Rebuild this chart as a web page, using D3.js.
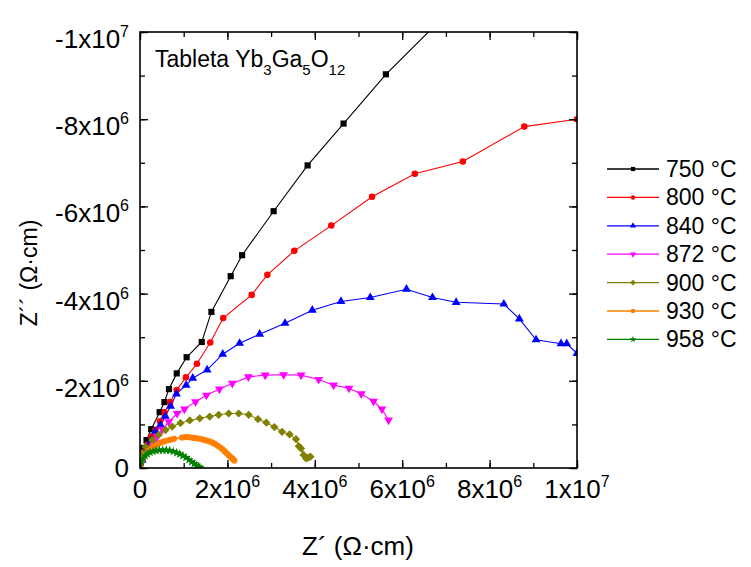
<!DOCTYPE html>
<html>
<head>
<meta charset="utf-8">
<script src="https://cdn.jsdelivr.net/npm/d3@7"></script>
<style>
  html, body { margin: 0; padding: 0; background: #fff; }
  svg { display: block; font-family: "Liberation Sans", Arial, sans-serif; }
</style>
</head>
<body>
<svg id="chart" width="751" height="567"></svg>
<script>
// ---------- DATA (Z' and Z'' in units of 10^6 Ω·cm) ----------
const xTickVals = [0, 2, 4, 6, 8, 10];
const xTickMant = ["0", "2x10", "4x10", "6x10", "8x10", "1x10"];
const xTickExp  = ["", "6", "6", "6", "6", "7"];
const yTickVals = [0, -2, -4, -6, -8, -10];
const yTickMant = ["0", "-2x10", "-4x10", "-6x10", "-8x10", "-1x10"];
const yTickExp  = ["", "6", "6", "6", "6", "7"];
const minorTicks = [0, 1, 2, 3, 4, 5, 6, 7, 8, 9, 10];

const seriesNames = ["750 °C", "800 °C", "840 °C", "872 °C", "900 °C", "930 °C", "958 °C"];

const s750 = [[0.011,-0.11],[0.034,-0.25],[0.08,-0.46],[0.149,-0.64],[0.256,-0.89],[0.45,-1.28],[0.558,-1.51],[0.663,-1.81],[0.841,-2.17],[1.067,-2.54],[1.413,-2.89],[1.634,-3.58],[2.075,-4.40],[2.336,-4.88],[3.058,-5.89],[3.835,-6.94],[4.658,-7.90],[5.627,-9.03],[7.0,-10.4]];
const s800 = [[0.011,-0.09],[0.046,-0.21],[0.10,-0.37],[0.17,-0.53],[0.263,-0.72],[0.354,-0.87],[0.457,-1.07],[0.56,-1.28],[0.69,-1.51],[0.839,-1.79],[1.051,-2.08],[1.303,-2.39],[1.607,-2.88],[1.904,-3.44],[2.555,-3.97],[2.914,-4.43],[3.531,-4.98],[4.377,-5.56],[5.31,-6.22],[6.29,-6.75],[7.387,-7.03],[8.795,-7.83],[10.0,-8.0]];
const s840 = [[0.046,-0.18],[0.10,-0.34],[0.17,-0.48],[0.26,-0.64],[0.35,-0.83],[0.47,-0.99],[0.58,-1.19],[0.70,-1.42],[0.834,-1.70],[1.056,-1.90],[1.207,-2.06],[1.536,-2.25],[1.893,-2.61],[2.28,-2.86],[2.738,-3.07],[3.319,-3.32],[3.943,-3.62],[4.599,-3.82],[5.269,-3.91],[6.098,-4.10],[6.693,-3.91],[7.234,-3.80],[8.325,-3.76],[8.681,-3.42],[9.063,-2.94],[9.634,-2.85],[9.765,-2.85],[10.0,-2.63]];
const s872 = [[0.057,-0.18],[0.126,-0.32],[0.22,-0.46],[0.31,-0.60],[0.40,-0.73],[0.514,-0.89],[0.658,-1.06],[0.85,-1.25],[1.017,-1.35],[1.269,-1.52],[1.52,-1.67],[1.817,-1.81],[2.114,-1.94],[2.48,-2.09],[2.864,-2.13],[3.287,-2.14],[3.685,-2.13],[4.087,-2.03],[4.43,-1.90],[4.782,-1.83],[5.063,-1.70],[5.344,-1.53],[5.536,-1.35],[5.687,-1.10]];
const s900 = [[0.01,-0.18],[0.05,-0.34],[0.126,-0.49],[0.279,-0.64],[0.43,-0.76],[0.583,-0.87],[0.736,-0.95],[0.926,-1.03],[1.138,-1.09],[1.367,-1.14],[1.595,-1.18],[1.80,-1.22],[2.03,-1.25],[2.258,-1.25],[2.487,-1.22],[2.70,-1.12],[2.891,-1.04],[3.074,-0.94],[3.25,-0.83],[3.424,-0.77],[3.57,-0.66],[3.634,-0.50],[3.685,-0.45],[3.744,-0.30],[3.80,-0.22],[3.851,-0.24],[3.90,-0.26]];
const s930 = [[0.01,-0.10],[0.04,-0.18],[0.08,-0.26],[0.13,-0.33],[0.19,-0.39],[0.26,-0.45],[0.33,-0.50],[0.40,-0.54],[0.47,-0.58],[0.55,-0.61],[0.62,-0.63],[0.70,-0.65],[0.78,-0.67],[0.96,-0.70],[1.03,-0.71],[1.10,-0.71],[1.17,-0.70],[1.24,-0.69],[1.31,-0.68],[1.38,-0.67],[1.45,-0.65],[1.52,-0.63],[1.59,-0.61],[1.66,-0.58],[1.72,-0.55],[1.78,-0.51],[1.84,-0.47],[1.89,-0.43],[1.94,-0.38],[1.99,-0.33],[2.03,-0.29],[2.07,-0.25],[2.11,-0.22],[2.14,-0.19],[2.16,-0.17]];
const s958 = [[0.00,-0.08],[0.03,-0.15],[0.07,-0.22],[0.12,-0.28],[0.17,-0.32],[0.23,-0.36],[0.30,-0.38],[0.37,-0.40],[0.44,-0.41],[0.52,-0.41],[0.60,-0.41],[0.68,-0.40],[0.76,-0.38],[0.84,-0.35],[0.91,-0.32],[0.98,-0.28],[1.05,-0.24],[1.12,-0.19],[1.18,-0.14],[1.24,-0.10],[1.29,-0.06],[1.34,-0.03],[1.37,-0.01]];

const seriesData = [s750, s800, s840, s872, s900, s930, s958];

// ---------- STYLE ----------
const colors = ["#000000", "#ff0000", "#0000ff", "#ff00ff", "#808000", "#ff8000", "#008000"];
const symbols = [d3.symbolSquare, d3.symbolCircle, d3.symbolTriangle, d3.symbolTriangle, d3.symbolSquare, d3.symbolCircle, d3.symbolStar];
const rotations = [0, 0, 0, 180, 45, 0, 0];
const sizes = [38, 34, 34, 34, 34, 30, 28];
const legendSizes = [18, 16, 16, 16, 16, 16, 14];

const L = 140, R = 577, T = 32, B = 468;

const svg = d3.select("#chart");
const x = d3.scaleLinear().domain([0, 10]).range([L, R]);
const y = d3.scaleLinear().domain([0, -10]).range([B, T]);

svg.append("defs").append("clipPath").attr("id", "clip")
  .append("rect").attr("x", L).attr("y", T).attr("width", R - L).attr("height", B - T);

const plot = svg.append("g").attr("clip-path", "url(#clip)");
const line = d3.line().x(d => x(d[0])).y(d => y(d[1]));

seriesData.forEach((data, i) => {
  plot.append("path").datum(data)
    .attr("fill", "none").attr("stroke", colors[i]).attr("stroke-width", i >= 5 ? 1.6 : 1.1)
    .attr("d", line);
});
seriesData.forEach((data, i) => {
  const sym = d3.symbol().type(symbols[i]).size(sizes[i]);
  plot.selectAll(null).data(data).enter().append("path")
    .attr("d", sym)
    .attr("fill", colors[i])
    .attr("transform", d => `translate(${x(d[0])},${y(d[1])}) rotate(${rotations[i]})`);
});

function styleAxis(g) {
  g.select(".domain").remove();
  g.selectAll("line").attr("stroke", "#000").attr("stroke-width", 1.3);
  g.selectAll("text").remove();
}
const negMinor = minorTicks.map(v => -v);
svg.append("g").attr("transform", `translate(0,${B})`)
  .call(d3.axisBottom(x).tickValues(minorTicks).tickSize(-5).tickFormat("")).call(styleAxis);
svg.append("g").attr("transform", `translate(0,${B})`)
  .call(d3.axisBottom(x).tickValues(xTickVals).tickSize(-8).tickFormat("")).call(styleAxis);
svg.append("g").attr("transform", `translate(0,${T})`)
  .call(d3.axisTop(x).tickValues(minorTicks).tickSize(-5).tickFormat("")).call(styleAxis);
svg.append("g").attr("transform", `translate(0,${T})`)
  .call(d3.axisTop(x).tickValues(xTickVals).tickSize(-8).tickFormat("")).call(styleAxis);
svg.append("g").attr("transform", `translate(${L},0)`)
  .call(d3.axisLeft(y).tickValues(negMinor).tickSize(-5).tickFormat("")).call(styleAxis);
svg.append("g").attr("transform", `translate(${L},0)`)
  .call(d3.axisLeft(y).tickValues(yTickVals).tickSize(-8).tickFormat("")).call(styleAxis);
svg.append("g").attr("transform", `translate(${R},0)`)
  .call(d3.axisRight(y).tickValues(negMinor).tickSize(-5).tickFormat("")).call(styleAxis);
svg.append("g").attr("transform", `translate(${R},0)`)
  .call(d3.axisRight(y).tickValues(yTickVals).tickSize(-8).tickFormat("")).call(styleAxis);

svg.append("rect").attr("x", L).attr("y", T).attr("width", R - L).attr("height", B - T)
  .attr("fill", "none").attr("stroke", "#000").attr("stroke-width", 1.6);

// tick labels
const tickFont = 26, supFont = 16;
xTickVals.forEach((v, i) => {
  const t = svg.append("text").attr("x", x(v)).attr("y", 498)
    .attr("text-anchor", "middle").attr("font-size", tickFont).attr("fill", "#000");
  t.append("tspan").text(xTickMant[i]);
  if (xTickExp[i]) t.append("tspan").attr("font-size", supFont).attr("dy", -11).text(xTickExp[i]);
});
yTickVals.forEach((v, i) => {
  const t = svg.append("text").attr("x", 129).attr("y", y(v) + (yTickExp[i] ? 16 : 9))
    .attr("text-anchor", "end").attr("font-size", tickFont).attr("fill", "#000");
  t.append("tspan").text(yTickMant[i]);
  if (yTickExp[i]) t.append("tspan").attr("font-size", supFont).attr("dy", -11).text(yTickExp[i]);
});

// axis titles
svg.append("text").attr("x", 358).attr("y", 555).attr("text-anchor", "middle")
  .attr("font-size", 26).text("Z´ (Ω·cm)");
svg.append("text").attr("transform", "translate(37,273) rotate(-90)").attr("text-anchor", "middle")
  .attr("font-size", 23).text("Z´´ (Ω·cm)");

// annotation
const ann = svg.append("text").attr("x", 155).attr("y", 67).attr("font-size", 23).attr("fill", "#000");
ann.append("tspan").text("Tableta Yb");
ann.append("tspan").attr("font-size", 15).attr("dy", 8).text("3");
ann.append("tspan").attr("dy", -8).text("Ga");
ann.append("tspan").attr("font-size", 15).attr("dy", 8).text("5");
ann.append("tspan").attr("dy", -8).text("O");
ann.append("tspan").attr("font-size", 15).attr("dy", 8).text("12");

// legend
const legY0 = 169, legDy = 28.4;
seriesNames.forEach((name, i) => {
  const yy = legY0 + i * legDy;
  svg.append("line").attr("x1", 607).attr("x2", 659).attr("y1", yy).attr("y2", yy)
    .attr("stroke", colors[i]).attr("stroke-width", 1.3);
  svg.append("path").attr("d", d3.symbol().type(symbols[i]).size(legendSizes[i]))
    .attr("fill", colors[i]).attr("transform", `translate(633,${yy}) rotate(${rotations[i]})`);
  svg.append("text").attr("x", 666).attr("y", yy + 8).attr("font-size", 23).text(name);
});
</script>
</body>
</html>
